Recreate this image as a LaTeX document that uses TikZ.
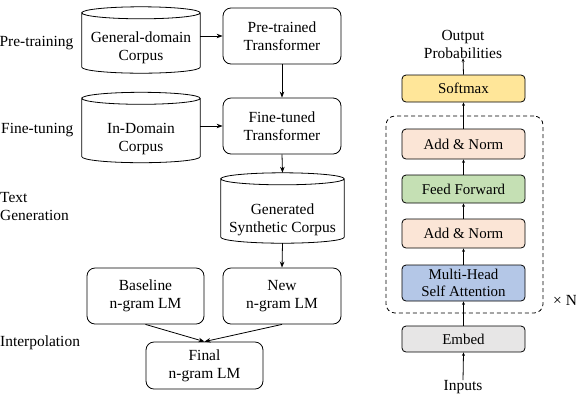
\documentclass[tikz,border=0pt]{standalone}
\usepackage{fontspec}
\setmainfont{Liberation Serif}
\usetikzlibrary{arrows.meta,calc}
\definecolor{cSoft}{HTML}{FFE699}
\definecolor{cNorm}{HTML}{FBE5D6}
\definecolor{cFF}{HTML}{C5E0B4}
\definecolor{cAtt}{HTML}{B4C7E7}
\definecolor{cEmb}{HTML}{E7E6E6}
\newcommand\drawcyl[1]{%
  \draw[line width=0.8bp] let \p1=(#1.north west), \p2=(#1.south east), \n1={(\x2-\x1)/2} in
    (\x1,\y1-6bp) arc[start angle=180,end angle=-180,x radius=\n1,y radius=6bp]
    -- (\x1,\y2+6bp) arc[start angle=180,end angle=360,x radius=\n1,y radius=6bp]
    -- (\x2,\y1-6bp);}
\begin{document}
\begin{tikzpicture}[x=1bp,y=-1bp,
  every node/.style={font=\fontsize{15.5}{18}\selectfont},
  rbox/.style={draw, rounded corners=8bp, line width=0.8bp, align=center, minimum width=118bp, minimum height=56bp, inner sep=0pt},
  cylbox/.style={inner sep=0pt},
  lbl/.style={align=center, inner sep=0pt},
  tbox/.style={draw, rounded corners=4bp, line width=0.8bp, minimum width=123bp, inner sep=0pt, font=\fontsize{15}{17}\selectfont, align=center},
  arr/.style={-{Stealth[length=6bp,width=4.5bp]}, line width=0.8bp},
  sarr/.style={-{Stealth[length=3.5bp,width=3bp]}, line width=0.8bp},
]
\useasboundingbox (0,0) rectangle (576,400);

% left labels
\node[lbl, anchor=east] (lpre) at (73.5,43) {Pre-training};
\node[lbl, anchor=east] (lfin) at (73.5,130) {Fine-tuning};
\node[lbl, anchor=west, align=left] (ltext) at (0,206.5) {Text\\Generation};
\node[lbl, anchor=west] (linter) at (0,343) {Interpolation};

% cylinders
\node[cylbox, minimum width=118bp, minimum height=66bp] (gen) at (141,40) {};
\node[cylbox, minimum width=118bp, minimum height=70bp] (ind) at (141,127.5) {};
\node[cylbox, minimum width=123bp, minimum height=70bp] (syn) at (282.5,208) {};
\drawcyl{gen}
\drawcyl{ind}
\drawcyl{syn}
\node[lbl] (genT) at (141,48) {General-domain\\Corpus};
\node[lbl] (indT) at (141,139) {In-Domain\\Corpus};
\node[lbl] (synT) at (282.5,219.5) {Generated\\Synthetic Corpus};

% rounded boxes
\node[rbox] (pre) at (282,36) {Pre-trained\\Transformer};
\node[rbox] (fin) at (282,126) {Fine-tuned\\Transformer};
\node[rbox] (new) at (282,296) {New\\n-gram LM};
\node[rbox, minimum width=117bp] (base) at (145.5,296) {Baseline\\n-gram LM};
\node[rbox, minimum width=117bp, minimum height=47bp] (final) at (204.5,365.5) {Final\\n-gram LM};

\draw[arr] (gen.east |- pre.west) -- (pre.west);
\draw[arr] (ind.east |- fin.west) -- (fin.west);
\draw[arr] (pre.south) -- (fin.north);
\draw[arr] (fin.south) -- (syn.north);
\draw[arr] (syn.south) -- (new.north);
\draw[arr] (base.south) -- (final.north);
\draw[arr] (new.south) -- (final.north);

% transformer
\node[draw, dashed, dash pattern=on 4bp off 3bp, rounded corners=9bp, line width=0.8bp, minimum width=157bp, minimum height=197bp, inner sep=0pt] (rep) at (464.5,214.5) {};
\node[lbl] (out) at (463,44) {Output\\Probabilities};
\node[tbox, fill=cSoft, minimum height=27bp] (soft) at (463.5,88.5) {Softmax};
\node[tbox, fill=cNorm, minimum height=30bp] (an1) at (463.5,144) {Add \& Norm};
\node[tbox, fill=cFF, minimum height=28bp] (ff) at (463.5,189) {Feed Forward};
\node[tbox, fill=cNorm, minimum height=29bp] (an2) at (463.5,233.5) {Add \& Norm};
\node[tbox, fill=cAtt, minimum height=36bp] (att) at (463.5,283) {Multi-Head\\Self Attention};
\node[tbox, fill=cEmb, minimum height=26bp] (emb) at (463.5,339) {Embed};
\node[lbl] (inp) at (463,387) {Inputs};
\node[lbl, anchor=west] (xn) at (553,300) {× N};

\draw[sarr] (inp.north) -- (emb.south);
\draw[sarr] (emb.north) -- (att.south);
\draw[sarr] (att.north) -- (an2.south);
\draw[sarr] (an2.north) -- (ff.south);
\draw[sarr] (ff.north) -- (an1.south);
\draw[sarr] (an1.north) -- (soft.south);
\draw[sarr] (soft.north) -- (out.south);
\end{tikzpicture}
\end{document}
